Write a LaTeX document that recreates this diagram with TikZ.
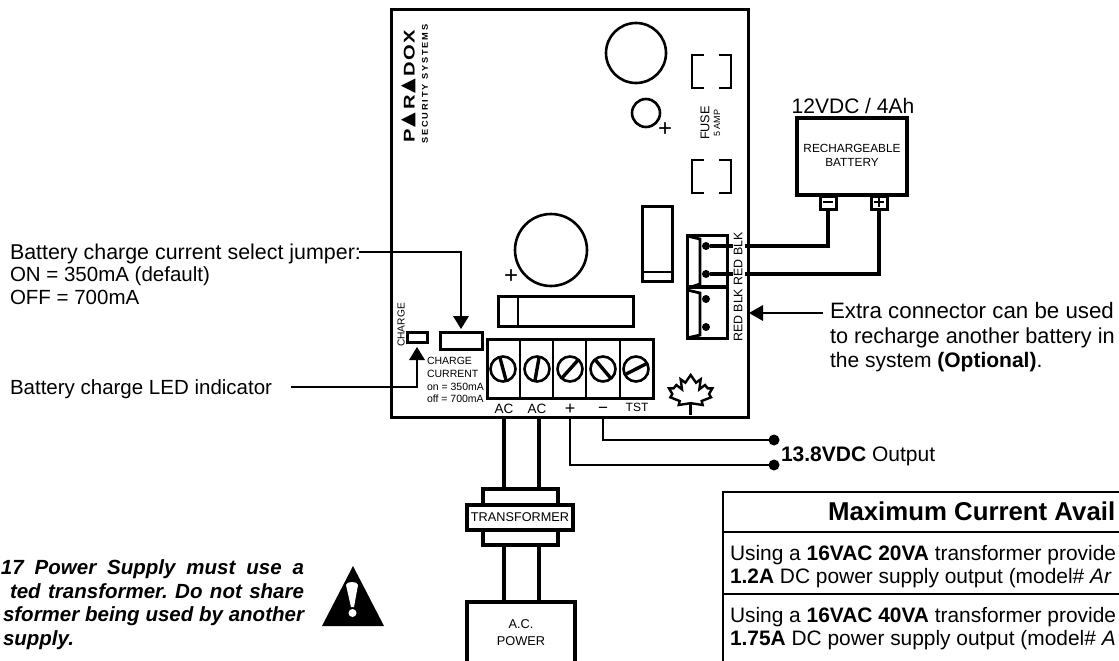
\documentclass[tikz,border=0pt]{standalone}
\usepackage{fontspec}
\setmainfont{Liberation Sans}
\newfontfamily\logofont[LetterSpace=9,FakeStretch=1.3]{Liberation Sans Bold}
\newfontfamily\logotri{DejaVu Sans}
\newfontfamily\logosmall[LetterSpace=22,FakeStretch=1.1]{Liberation Sans Bold}
\newlength\pxu \setlength\pxu{0.75pt}
\newcommand{\fpx}[1]{\fontsize{#1\pxu}{1.15\dimexpr#1\pxu\relax}\selectfont}
\newcommand{\logotr}{\kern1.5\pxu{\logotri\fpx{19}\raisebox{0.6pt}{▲}}\kern3\pxu}
\tikzset{
  x=0.75pt,y=-0.75pt,
  every node/.style={inner sep=0pt,outer sep=0pt},
  heavy/.style={line width=3.2\pxu,draw=black},
  med/.style={line width=2.8\pxu,draw=black},
  fine/.style={line width=1.8\pxu,draw=black},
  boxn/.style={draw=black,line width=3\pxu,fill=white,rectangle},
  lab/.style={font=\fpx{21},anchor=base west},
  tiny/.style={font=\fpx{10.5},anchor=base west},
  pin/.style={font=\fpx{13.5},anchor=base},
  rot/.style={rotate=90,anchor=center},
  arrowhd/.style={fill=black,draw=none},
  dotn/.style={circle,fill=black,draw=none},
  slot/.style={line width=3.4\pxu,draw=black},
  screwn/.style={circle,draw=black,line width=2.6\pxu,minimum size=25\pxu,fill=white}
}
\begin{document}
\begin{tikzpicture}
\useasboundingbox (0,0) rectangle (1119,660);
\fill[white] (0,0) rectangle (1119,660);
% board
\node[boxn,line width=3\pxu,anchor=north west,minimum width=357\pxu,minimum height=407\pxu] (board) at (391,10) {};
% logo
\node[rot,font=\logofont\fpx{15.5}] (logo) at (409,86) {P\logotr R\logotr DOX};
\node[rot,font=\logosmall\fpx{8.4}] (logosub) at (425,84) {SECURITY SYSTEMS};
% caps
\node[circle,draw,line width=2.6\pxu,minimum size=60\pxu] (c1) at (636,53) {};
\node[circle,draw,line width=2.6\pxu,minimum size=28\pxu] (c2) at (646,113) {};
\node[font=\fpx{24}] (c2p) at (665,130) {+};
\node[circle,draw,line width=2.6\pxu,minimum size=72\pxu] (c3) at (551,250) {};
\node[font=\fpx{24}] (c3p) at (511,277) {+};
% fuse
\draw[med] (704,55)--(692,55)--(692,88)--(704,88);
\draw[med] (719,55)--(731,55)--(731,88)--(719,88);
\draw[med] (704,160)--(692,160)--(692,193)--(704,193);
\draw[med] (719,160)--(731,160)--(731,193)--(719,193);
\node[rot,font=\fpx{12.7}] (fuse) at (705,123) {FUSE};
\node[rot,font=\fpx{9}] (amp) at (717,123) {5 AMP};
% tall part
\node[boxn,anchor=north west,minimum width=30\pxu,minimum height=75\pxu] (tall) at (642,206) {};
\draw[med] (642,272)--(672,272);
% wide part
\node[boxn,anchor=north west,minimum width=135\pxu,minimum height=30\pxu] (wide) at (498,296) {};
\draw[med] (518,296)--(518,326);
% terminal block
\node[boxn,anchor=north west,minimum width=166\pxu,minimum height=59\pxu] (tb) at (487,339) {};
\foreach \x in {520,553,586,620} \draw[med] (\x,339)--(\x,398);
\foreach \n/\x/\a in {1/503/75,2/537/100,3/570/132,4/603/50,5/636/153}{
  \node[screwn] (s\n) at (\x,369) {};
  \draw[slot] (s\n.center) ++(\a:-11.5) -- ++(\a:23);
}
\node[pin] (ac1) at (504,413) {AC};
\node[pin] (ac2) at (537,413) {AC};
\node[pin,font=\fpx{18}] (tp) at (570,414) {+};
\node[pin,font=\fpx{17}] (tm) at (603,413) {−};
\node[pin,font=\fpx{12}] (tst) at (637,411) {TST};
% maple leaf
\begin{scope}[shift={(660,370)},x=0.25pt,y=-0.25pt]
\draw[line width=2.4\pxu,line join=miter]
 (92,15)--(108,38)--(122,28)--(118,58)--(135,45)--(143,55)--(157,55)--(147,72)--(153,82)--(125,93)--(128,105)--(95,100)
 --(89,100)--(56,105)--(59,93)--(31,82)--(37,72)--(27,55)--(41,55)--(49,45)--(66,58)--(62,28)--(76,38)--cycle;
\draw[line width=2.6\pxu] (92,100)--(92,135);
\end{scope}
% jumper, LED
\node[boxn,anchor=north west,minimum width=42\pxu,minimum height=17\pxu] (jump) at (440,332) {};
\node[boxn,anchor=north west,minimum width=20\pxu,minimum height=10\pxu] (led) at (407,332) {};
\node[rot,font=\fpx{10.2}] (chg) at (401,325) {CHARGE};
\node[tiny] (cc1) at (427,364) {CHARGE};
\node[tiny] (cc2) at (427,377) {CURRENT};
\node[tiny] (cc3) at (427,390) {on = 350mA};
\node[tiny] (cc4) at (427,402) {off = 700mA};
% left labels and arrows
\node[lab,font=\fpx{21.4}] (l1) at (10,259) {Battery charge current select jumper:};
\node[lab,font=\fpx{20.5}] (l2) at (10,281) {ON = 350mA (default)};
\node[lab,font=\fpx{20.5}] (l3) at (10,304) {OFF = 700mA};
\node[lab,font=\fpx{20.5}] (l4) at (10,394) {Battery charge LED indicator};
\coordinate (a1s) at (359,252);
\coordinate (a2s) at (291,387);
\coordinate (a1t) at (461,329);
\coordinate (a2t) at (417,347);
\draw[med] (a1s) -| ([yshift=9pt]a1t |- a1t);
\fill[arrowhd] (a1t)--++(-8,-13)--++(16,0)--cycle;
\draw[med] (a2s) -| ([yshift=-9pt]a2t);
\fill[arrowhd] (a2t)--++(-8,13)--++(16,0)--cycle;
% connector
\node[boxn,anchor=north west,minimum width=40\pxu,minimum height=103\pxu] (conn) at (687,235) {};
\draw[med] (687,236)--(700,239)--(700,284)--(688,288);
\draw[med] (687,290)--(700,293)--(700,335)--(687,338);
\draw[line width=4\pxu] (686,287)--(727,287);
\node[dotn,minimum size=8\pxu] (d1) at (706,246) {};
\node[dotn,minimum size=8\pxu] (d2) at (706,274) {};
\node[dotn,minimum size=8\pxu] (d3) at (706,299) {};
\node[dotn,minimum size=8\pxu] (d4) at (706,327) {};
\coordinate (d1e) at (733,246);
\coordinate (d2e) at (733,274);
\draw[heavy] (d1)--(d1e);
\draw[heavy] (d2)--(d2e);
\node[rot,font=\fpx{12.4},fill=white] (rb) at (738,287) {RED BLK RED BLK};
% battery
\node[font=\fpx{21},anchor=base] (bv) at (853,113) {12VDC / 4Ah};
\node[boxn,line width=3.6\pxu,anchor=north west,minimum width=110\pxu,minimum height=77\pxu] (batt) at (797,118) {};
\node[font=\fpx{11.8}] (batt1) at (852,148) {RECHARGEABLE};
\node[font=\fpx{11.8}] (batt2) at (852,162) {BATTERY};
\node[boxn,anchor=north west,minimum width=16\pxu,minimum height=13\pxu] (neg) at (820,196) {};
\node[boxn,anchor=north west,minimum width=16\pxu,minimum height=13\pxu] (pos) at (871,196) {};
\draw[line width=1.6\pxu] (823,202)--(833,202);
\draw[line width=1.6\pxu] (874,202)--(884,202) (879,198)--(879,207);
\coordinate (b1) at (745,246);
\coordinate (b2) at (745,274);
\draw[heavy] (b1) -| (neg.south);
\draw[heavy] (b2) -| (pos.south);
% extra arrow
\node[lab,font=\fpx{22.3}] (e1) at (830,318) {Extra connector can be used};
\node[lab,font=\fpx{21.7}] (e2) at (830,343) {to recharge another battery in};
\node[lab,font=\fpx{21}] (e3) at (830,367) {the system \textbf{(Optional)}.};
\coordinate (ex) at (823,313);
\coordinate (ext) at (749,313);
\draw[med] (ex)--(760,313);
\fill[arrowhd] (ext)--++(14,-8)--++(0,16)--cycle;
% output
\coordinate (om) at (603,417);
\coordinate (op) at (570,417);
\node[dotn,minimum size=11\pxu] (o1) at (774,440) {};
\node[dotn,minimum size=11\pxu] (o2) at (774,465) {};
\draw[fine] (om) |- (o1);
\draw[fine] (op) |- (o2);
\node[lab] (ot) at (781,461) {\textbf{13.8VDC} Output};
% transformer
\node[boxn,anchor=north west,line width=3.2\pxu,minimum width=75\pxu,minimum height=56\pxu] (xb) at (483,489) {};
\node[boxn,anchor=north west,line width=3.2\pxu,minimum width=106\pxu,minimum height=25\pxu,font=\fpx{12.7}] (xl) at (467,505) {TRANSFORMER};
\node[boxn,anchor=north west,line width=3.2\pxu,minimum width=108\pxu,minimum height=70\pxu] (acp) at (467,602) {};
\node[font=\fpx{12.8}] (acp1) at (521,624) {A.C.};
\node[font=\fpx{12.8}] (acp2) at (521,641) {POWER};
\coordinate (w1) at (504,418);
\coordinate (w2) at (539,418);
\draw[heavy] (w1)--(w1 |- xb.north);
\draw[heavy] (w2)--(w2 |- xb.north);
\draw[heavy] (w1 |- xb.south)--(w1 |- acp.north);
\draw[heavy] (w2 |- xb.south)--(w2 |- acp.north);
% warning
\fill (353,566)--(384,626)--(322,626)--cycle;
\fill[white] (346,585) .. controls (346,581) and (358,581) .. (358,585) -- (354,607) -- (351,607) -- cycle;
\fill[white] (352.5,613) circle (4);
\node[font=\fpx{20.5}\bfseries\itshape,anchor=base east] (n1) at (304,574) {\hbox to 303\pxu{17\hfill Power\hfill Supply\hfill must\hfill use\hfill a}};
\node[font=\fpx{20.5}\bfseries\itshape,anchor=base east] (n2) at (304,598) {\hbox to 294\pxu{ted\hfill transformer.\hfill Do\hfill not\hfill share}};
\node[font=\fpx{20.5}\bfseries\itshape,anchor=base east] (n3) at (304,621) {\hbox to 301\pxu{sformer\hfill being\hfill used\hfill by\hfill another}};
\node[font=\fpx{20.5}\bfseries\itshape,anchor=base west] (n4) at (3,645) {supply.};
% table
\draw[med] (1125,492)--(723,492)--(723,665);
\draw[med] (723,532)--(1125,532);
\draw[fine] (723,594)--(1125,594);
\node[font=\fpx{25.8}\bfseries,anchor=base west] (tt) at (828,520) {Maximum Current Avail};
\node[lab,font=\fpx{20.9}] (r1) at (730,560) {Using a \textbf{16VAC 20VA} transformer provide};
\node[lab,font=\fpx{20.9}] (r2) at (730,583) {\textbf{1.2A} DC power supply output (model\# \textit{Ar}};
\node[lab,font=\fpx{20.9}] (r3) at (730,622) {Using a \textbf{16VAC 40VA} transformer provide};
\node[lab,font=\fpx{20.9}] (r4) at (730,645) {\textbf{1.75A} DC power supply output (model\# \textit{A}};
\end{tikzpicture}
\end{document}
